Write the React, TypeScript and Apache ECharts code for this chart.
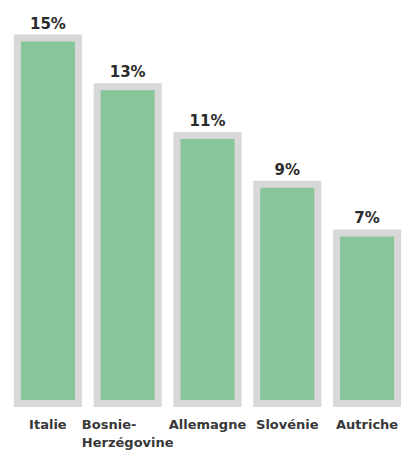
import React, { useEffect, useRef } from "react";
import * as echarts from "echarts";

const categories = ["Italie", "Bosnie-\nHerzégovine", "Allemagne", "Slovénie", "Autriche"];
const values = [15, 13, 11, 9, 7];

export default function App() {
  const ref = useRef<HTMLDivElement>(null);
  useEffect(() => {
    if (!ref.current) return;
    const chart = echarts.init(ref.current, null, { renderer: "svg" });
    chart.setOption({
      animation: false,
      backgroundColor: "#ffffff",
      grid: { left: 8, width: 405, top: 38, height: 365.5 },
      xAxis: {
        type: "category",
        data: categories,
        axisLine: { show: false },
        axisTick: { show: false },
        axisLabel: {
          interval: 0,
          margin: 12,
          formatter: (v: string) => {
            if (v.includes("\n")) {
              const [a, b] = v.split("\n");
              return "{l|" + a + "}\n{c|" + b + "}";
            }
            return "{c|" + v + "}";
          },
          rich: {
            l: { align: "left", fontFamily: "DejaVu Sans", fontWeight: "bold", fontSize: 13, color: "#383838", lineHeight: 18 },
            c: { align: "center", fontFamily: "DejaVu Sans", fontWeight: "bold", fontSize: 13, color: "#383838", lineHeight: 18 },
          },
        },
      },
      yAxis: { type: "value", min: 0, max: 15, show: false, splitLine: { show: false } },
      series: [
        {
          type: "custom",
          data: values.map((v, i) => [i, v]),
          encode: { x: 0, y: 1 },
          renderItem: (params: any, api: any) => {
            const top = api.coord([api.value(0), api.value(1)]);
            const base = api.coord([api.value(0), 0]);
            const bw = api.size([1, 0])[0] * 0.765;
            return {
              type: "group",
              children: [
                {
                  type: "rect",
                  shape: { x: top[0] - bw / 2, y: top[1], width: bw, height: base[1] - top[1] },
                  style: { fill: "#89c59a", stroke: "#d9d8d8", lineWidth: 7 },
                },
                {
                  type: "text",
                  x: top[0],
                  y: top[1] - 7,
                  style: {
                    text: api.value(1) + "%",
                    align: "center",
                    verticalAlign: "bottom",
                    font: "bold 15px 'DejaVu Sans'",
                    fill: "#2b2b2b",
                  },
                },
              ],
            };
          },
        },
      ],
    });
    return () => chart.dispose();
  }, []);
  return <div ref={ref} style={{ position: "fixed", left: 0, top: 0, width: 407, height: 450 }} />;
}
